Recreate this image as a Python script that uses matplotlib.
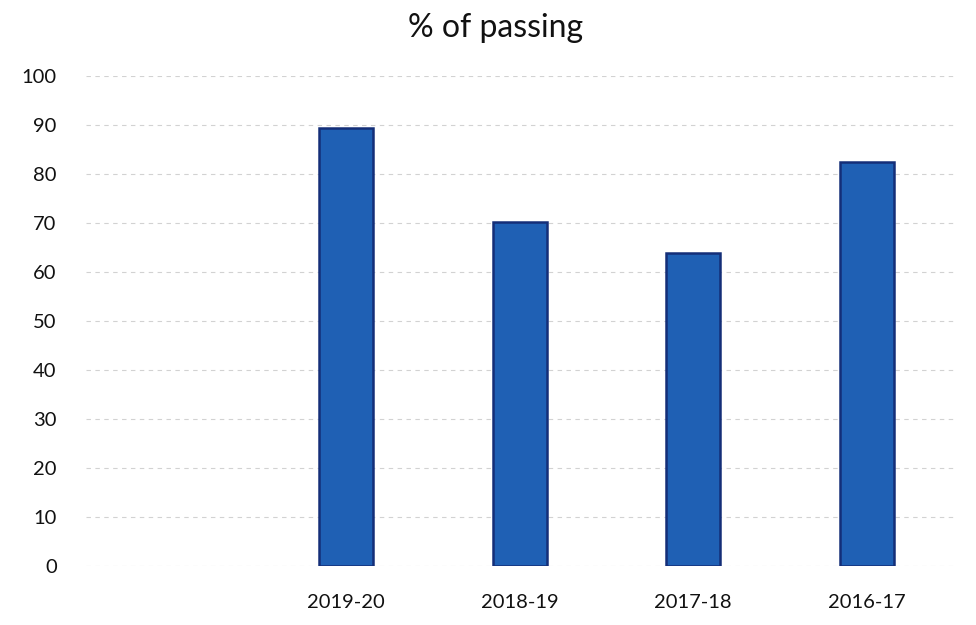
import numpy as np
import matplotlib
matplotlib.use('Agg')
import matplotlib.pyplot as plt

plt.rcParams['font.family'] = ['Lato', 'DejaVu Sans']

categories = ['', '2019-20', '2018-19', '2017-18', '2016-17']
passing = [np.nan, 89.4, 70.2, 63.9, 82.4]
yticks = [0, 10, 20, 30, 40, 50, 60, 70, 80, 90, 100]

fig = plt.figure(figsize=(9.76, 6.25), dpi=100)
ax = fig.add_axes([0.088, 0.0944, 0.889, 0.7836])

x = np.arange(len(categories))
ax.bar(x, passing, width=0.31, color='#1f60b4', edgecolor='#142e78', linewidth=1.8, zorder=3)

ax.set_xlim(-0.5, len(categories) - 0.5)
ax.set_ylim(0, 100)
ax.set_yticks(yticks)
ax.set_xticks(x)
ax.set_xticklabels(categories)
ax.yaxis.grid(True, linestyle=(0, (4, 4)), color='#d2d2d2', linewidth=0.8, zorder=0)
ax.tick_params(axis='both', length=0, labelsize=14.5, colors='#111111')
ax.tick_params(axis='x', pad=20)
ax.tick_params(axis='y', pad=21)
for s in ax.spines.values():
    s.set_visible(False)

ax.set_title('% of passing', fontsize=23, color='#111111', pad=28, x=0.472)

plt.savefig('out.png', dpi=100)
